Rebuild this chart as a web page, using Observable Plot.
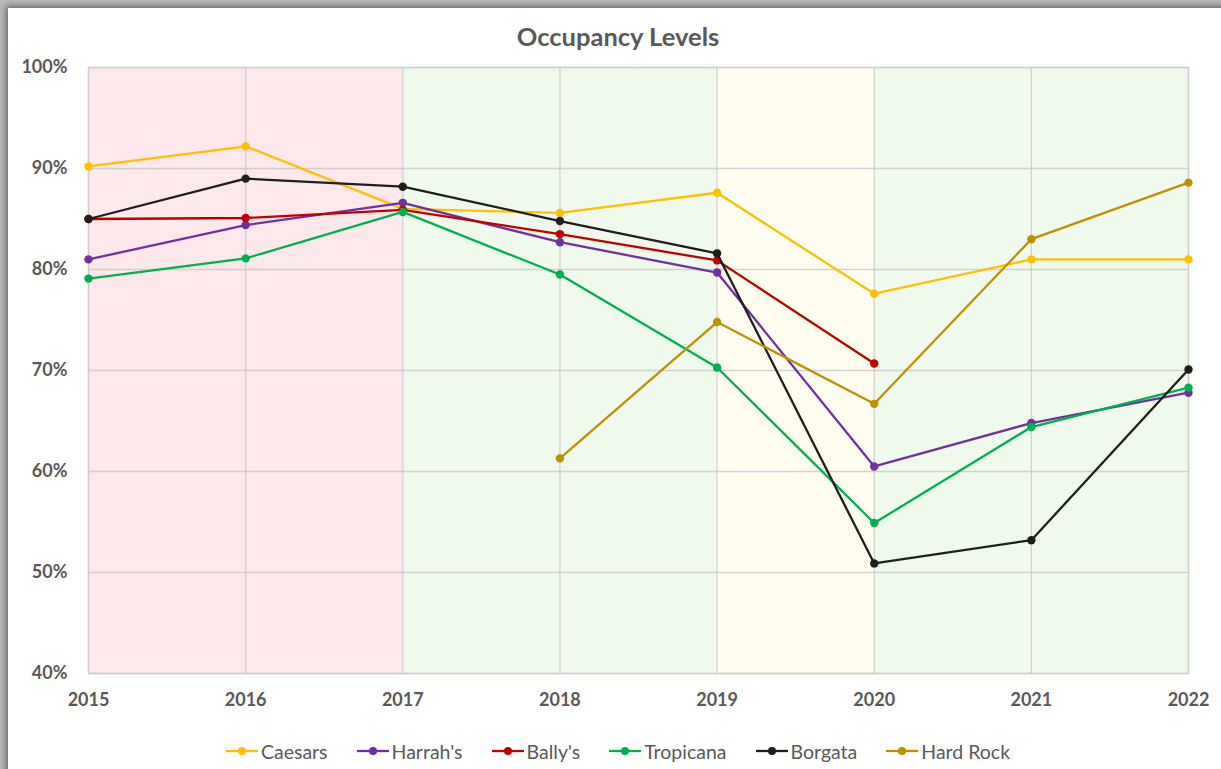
<!DOCTYPE html>
<html><head><meta charset="utf-8">
<script src="https://cdn.jsdelivr.net/npm/d3@7"></script>
<script src="https://cdn.jsdelivr.net/npm/@observablehq/plot@0.6"></script>
<style>
html,body{margin:0;padding:0;width:1221px;height:769px;overflow:hidden;background:#b8b8b8;}
#frame{position:absolute;left:8px;top:8px;width:1260px;height:800px;background:#fff;box-shadow:0 0 6px 2px rgba(0,0,0,0.45);}
#chart{position:absolute;left:0;top:0;width:1221px;font-family:Lato,"Open Sans",sans-serif;}
#title{height:50px;box-sizing:border-box;padding-top:23px;padding-left:15px;line-height:26px;font-size:25.5px;font-weight:700;color:#595959;text-align:center;}
#legend{display:flex;justify-content:center;align-items:center;padding-left:15px;padding-top:19px;height:24px;font-size:19.5px;color:#595959;}
.item{display:flex;align-items:center;margin:0 14.5px;}
.item svg{margin-right:3px;}
svg.plot{display:block;}
</style>
</head><body>
<div id="frame"></div>
<div id="chart">
  <div id="title">Occupancy Levels</div>
  <div id="plot"></div>
  <div id="legend"></div>
</div>
<script>
const years = [2015, 2016, 2017, 2018, 2019, 2020, 2021, 2022];
const seriesNames = ["Caesars", "Harrah's", "Bally's", "Tropicana", "Borgata", "Hard Rock"];
const caesars   = [90.2, 92.2, 86.0, 85.6, 87.6, 77.6, 81.0, 81.0];
const harrahs   = [81.0, 84.4, 86.6, 82.7, 79.7, 60.5, 64.8, 67.8];
const ballys    = [85.0, 85.1, 85.9, 83.5, 80.9, 70.7, null, null];
const tropicana = [79.1, 81.1, 85.7, 79.5, 70.3, 54.9, 64.4, 68.3];
const borgata   = [85.0, 89.0, 88.2, 84.8, 81.6, 50.9, 53.2, 70.1];
const hardRock  = [null, null, null, 61.3, 74.8, 66.7, 83.0, 88.6];
const yTicks = [40, 50, 60, 70, 80, 90, 100];
const phaseStart = [2015, 2017, 2019, 2020];
const phaseEnd   = [2017, 2019, 2020, 2022];

const seriesValues = [caesars, harrahs, ballys, tropicana, borgata, hardRock];
const seriesColors = ["#FFC000", "#7030A0", "#C00000", "#00B050", "#1E1E1E", "#BF9000"];
const phaseFills = ["#FDE9EC", "#F0FAEC", "#FFFDF0", "#F0FAEC"];

const seriesRows = seriesNames.map((name, k) =>
  years.map((year, i) => ({series: name, year, value: seriesValues[k][i]}))
       .filter(d => d.value != null));
const bands = phaseStart.map((s, i) => ({start: s, end: phaseEnd[i]}));

const marks = [];
bands.forEach((b, i) => marks.push(Plot.rect([b], {x1: "start", x2: "end", y1: () => 40, y2: () => 100, fill: phaseFills[i]})));
marks.push(Plot.gridX(years, {stroke: "#c4c4c4", strokeOpacity: 0.75, strokeWidth: 1.3}));
marks.push(Plot.gridY(yTicks, {stroke: "#c4c4c4", strokeOpacity: 0.75, strokeWidth: 1.3}));
marks.push(Plot.frame({stroke: "#cfcfcf", strokeWidth: 1.3}));
marks.push(Plot.axisX(years, {tickSize: 0, tickPadding: 20, tickFormat: d => String(d), fontSize: 18, fontWeight: "bold", fill: "#595959", label: null}));
marks.push(Plot.axisY(yTicks, {tickSize: 0, tickPadding: 21, tickFormat: d => d + "%", fontSize: 18, fontWeight: "bold", fill: "#595959", label: null}));
seriesRows.forEach((rows, k) => {
  marks.push(Plot.line(rows, {x: "year", y: "value", stroke: seriesColors[k], strokeWidth: 2.3}));
  marks.push(Plot.dot(rows, {x: "year", y: "value", fill: seriesColors[k], r: 4.2}));
});

const chart = Plot.plot({
  width: 1221, height: 670,
  marginLeft: 88, marginRight: 33, marginTop: 17, marginBottom: 47,
  x: {domain: [2015, 2022], axis: null},
  y: {domain: [40, 100], axis: null},
  style: {fontFamily: "Lato, 'Open Sans', sans-serif", background: "transparent", overflow: "visible"},
  marks
});
document.getElementById("plot").appendChild(chart);

const legend = document.getElementById("legend");
seriesNames.forEach((name, k) => {
  const item = document.createElement("div");
  item.className = "item";
  item.innerHTML = `<svg width="32" height="12"><line x1="0" x2="32" y1="6" y2="6" stroke="${seriesColors[k]}" stroke-width="2.3"/><circle cx="16" cy="6" r="4" fill="${seriesColors[k]}"/></svg><span>${name}</span>`;
  legend.appendChild(item);
});
</script>
</body></html>
